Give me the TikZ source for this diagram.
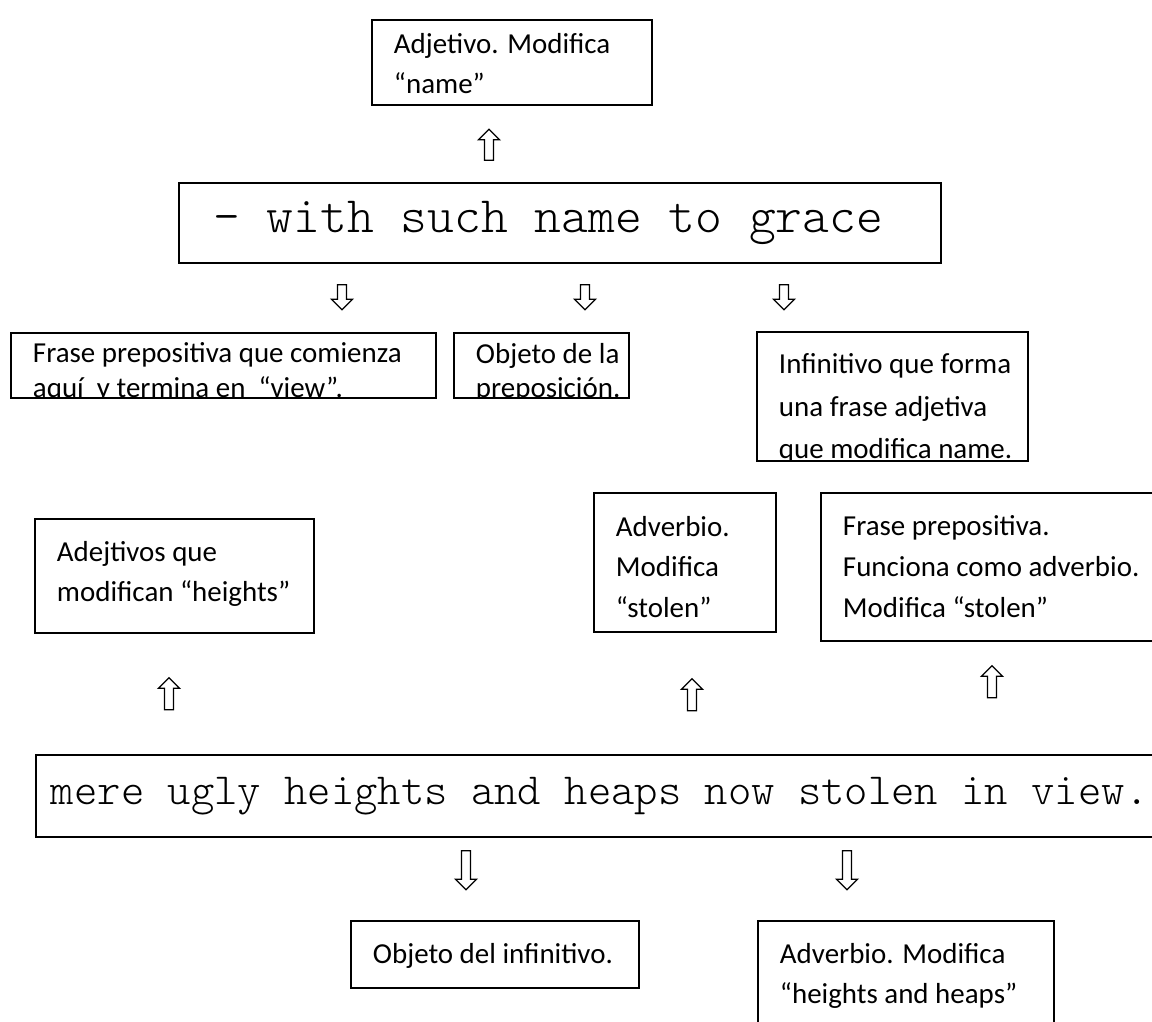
\documentclass[tikz,border=0pt]{standalone}
\usepackage{fontspec}
\setmainfont{Carlito}
\newfontfamily\codefont{Latin Modern Mono Light}
\usetikzlibrary{shapes.arrows}

\def\px{0.38pt}

\begin{document}
\begin{tikzpicture}[x=0.38pt, y=-0.38pt,
  note/.style={draw, line width=0.75pt, inner sep=0pt, anchor=north west},
  txt/.style={anchor=north west, align=left, inner sep=0pt, draw=none,
              minimum width=0pt, minimum height=0pt},
  notetext/.style n args={3}{path picture={%
      \node[txt, font=\fontsize{11}{#2}\selectfont]
        at ([shift={(21,#1)}]path picture bounding box.north west) {#3};}},
  code/.style={draw, line width=0.75pt, anchor=north west},
  hollow/.style={single arrow, draw, line width=0.45pt, inner sep=1.5pt,
                 minimum height=#1*\px, single arrow head extend=2.3pt,
                 single arrow tip angle=90},
  uparr/.style={hollow=#1, shape border rotate=90},
  dnarr/.style={hollow=#1, shape border rotate=270}]
  \useasboundingbox[fill=white] (0,0) rectangle (1152,1022);
  % --- first line of the poem and its notes
  \node[note, minimum width=280*\px, minimum height=85*\px,
        notetext={12}{15.4pt}{Adjetivo. Modifica\\“name”}] (adj) at (371,19) {};
  \node[uparr=31] (a0) at (489,147) {};
  \node[code, inner sep=0pt, minimum width=762*\px, minimum height=80*\px,
        font=\codefont\fontsize{19.4}{22}\selectfont] (line1) at (178,182)
        {– with such name to grace\kern9pt};
  \node[dnarr=25] (d1) at (342,295) {};
  \node[dnarr=25] (d2) at (585,295) {};
  \node[dnarr=25] (d3) at (784,295) {};
  \node[note, minimum width=425*\px, minimum height=65*\px,
        notetext={9}{13pt}{Frase prepositiva que comienza\\aquí\ \ y termina en\ \ “view”.}] (frase) at (10,332) {};
  \node[note, minimum width=175*\px, minimum height=65*\px,
        notetext={9}{13pt}{Objeto de la\\preposición.}] (objprep) at (453,332) {};
  \node[note, minimum width=271*\px, minimum height=129*\px,
        notetext={21}{16pt}{Infinitivo que forma\\una frase adjetiva\\que modifica name.}] (infin) at (756,331) {};
  % --- second line of the poem and its notes
  \node[note, minimum width=279*\px, minimum height=114*\px,
        notetext={21}{15.4pt}{Adejtivos que\\modifican “heights”}] (adejt) at (34,518) {};
  \node[note, minimum width=182*\px, minimum height=139*\px,
        notetext={22}{15.4pt}{Adverbio.\\Modifica\\“stolen”}] (adverb) at (593,492) {};
  \node[note, minimum width=345*\px, minimum height=148*\px,
        notetext={22}{15.4pt}{Frase prepositiva.\\Funciona como adverbio.\\Modifica “stolen”}] (fraseprep) at (820,492) {};
  \node[uparr=32] (u1) at (169,696) {};
  \node[uparr=32] (u2) at (692,697) {};
  \node[uparr=32] (u3) at (992,684) {};
  \node[code, inner xsep=5.7pt, inner ysep=0pt, minimum height=82*\px,
        font=\codefont\fontsize{16.9}{20}\selectfont] (line2) at (35,754)
        {\makebox[430pt][l]{mere ugly heights and heaps now stolen in view.}};
  \node[dnarr=39] (e1) at (466,868) {};
  \node[dnarr=39] (e2) at (847,868) {};
  \node[note, minimum width=288*\px, minimum height=67*\px,
        notetext={21}{15.4pt}{Objeto del infinitivo.}] (objinf) at (350,920) {};
  \node[note, minimum width=296*\px, minimum height=115*\px,
        notetext={21}{15.4pt}{Adverbio. Modifica\\“heights and heaps”}] (adverb2) at (757,920) {};
\end{tikzpicture}
\end{document}
